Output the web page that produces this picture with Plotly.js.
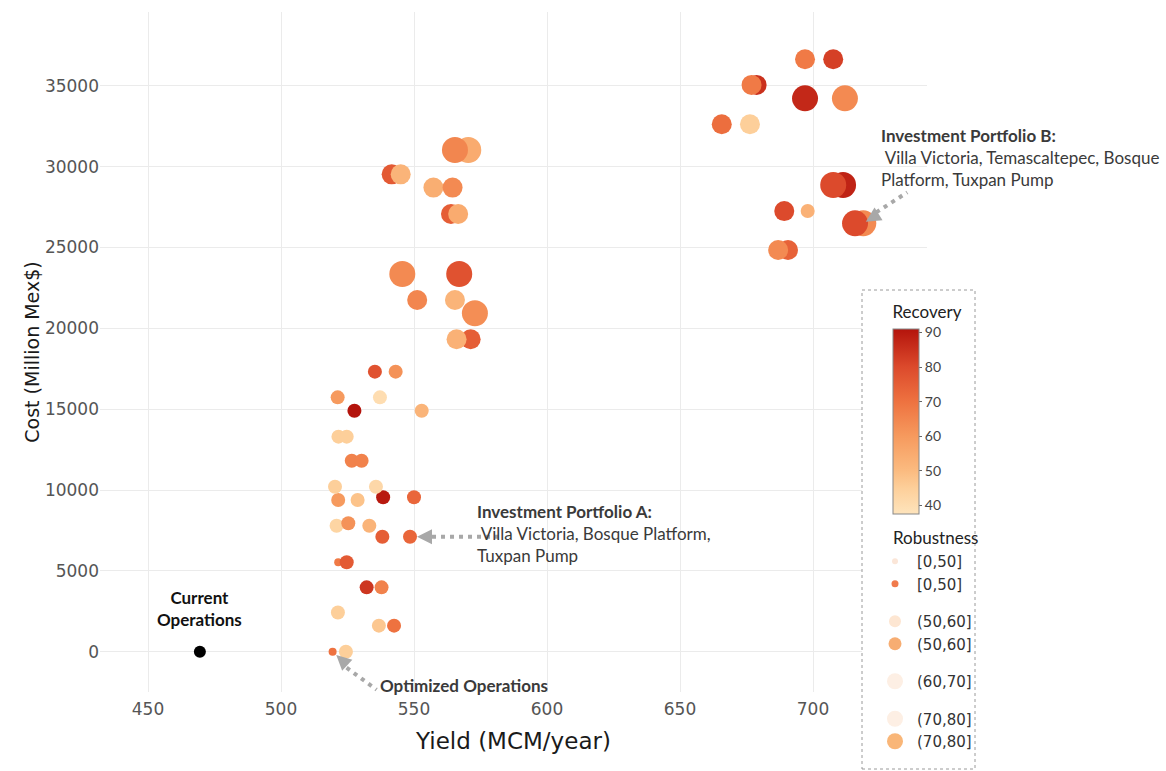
<!DOCTYPE html>
<html>
<head>
<meta charset="utf-8">
<script src="https://cdn.plot.ly/plotly-3.0.1.min.js"></script>
<style>
  html, body { margin: 0; padding: 0; background: #ffffff; }
  #chart { width: 1166px; height: 771px; }
</style>
</head>
<body>
<div id="chart"></div>
<script>
// ---------------- DATA ----------------
const yieldMCM = [
  519.4, 524.4, 521.4, 536.8, 542.5, 532.2, 537.8, 521.5, 524.7, 548.5,
  538.1, 520.9, 525.3, 533.2, 521.5, 528.8, 538.4, 550.0, 520.3, 535.7,
  526.6, 530.3, 521.6, 524.7, 527.6, 552.9, 521.3, 537.2, 535.3, 543.1,
  570.4, 565.4, 541.6, 545.0, 557.3, 564.5, 563.9, 566.6, 545.6, 567.0,
  551.2, 565.4, 572.9, 571.3, 566.0,
  697.0, 707.6, 678.8, 676.9, 697.0, 712.0, 665.7, 676.3, 711.3, 707.6,
  689.2, 698.0, 718.9, 715.8, 690.6, 686.9
];
const costMillionMex = [
  0, 0, 2420, 1610, 1610, 3980, 3980, 5530, 5530, 7110,
  7110, 7790, 7940, 7790, 9380, 9380, 9550, 9550, 10200, 10200,
  11810, 11810, 13300, 13300, 14900, 14900, 15730, 15730, 17320, 17320,
  31030, 31030, 29520, 29520, 28700, 28700, 27070, 27070, 23360, 23360,
  21750, 21750, 20930, 19320, 19320,
  36640, 36640, 35050, 35050, 34220, 34220, 32620, 32620, 28860, 28860,
  27250, 27250, 26490, 26490, 24840, 24840
];
const recovery = [
  70, 45, 45, 47, 70, 84, 66, 68, 76, 73,
  75, 43, 62, 52, 60, 48, 90, 73, 45, 42,
  66, 66, 45, 45, 91, 52, 60, 40, 78, 62,
  55, 65, 76, 52, 54, 64, 75, 55, 64, 78,
  65, 52, 63, 75, 53,
  68, 82, 85, 68, 87, 64, 71, 45, 88, 80,
  80, 53, 64, 80, 74, 64
];
const robustness = [
  '[0,50]', '(50,60]', '(50,60]', '(50,60]', '(50,60]', '(50,60]', '(50,60]', '[0,50]', '(50,60]', '(50,60]',
  '(50,60]', '(50,60]', '(50,60]', '(50,60]', '(50,60]', '(50,60]', '(50,60]', '(50,60]', '(50,60]', '(50,60]',
  '(50,60]', '(50,60]', '(50,60]', '(50,60]', '(50,60]', '(50,60]', '(50,60]', '(50,60]', '(50,60]', '(50,60]',
  '(70,80]', '(70,80]', '(60,70]', '(60,70]', '(60,70]', '(60,70]', '(60,70]', '(60,70]', '(70,80]', '(70,80]',
  '(60,70]', '(60,70]', '(70,80]', '(60,70]', '(60,70]',
  '(60,70]', '(60,70]', '(60,70]', '(60,70]', '(70,80]', '(70,80]', '(60,70]', '(60,70]', '(70,80]', '(70,80]',
  '(60,70]', '(50,60]', '(70,80]', '(70,80]', '(60,70]', '(60,70]'
];
const currentYield = [469.5];
const currentCost = [0];

const xTicks = [450, 500, 550, 600, 650, 700];
const yTicks = [0, 5000, 10000, 15000, 20000, 25000, 30000, 35000];
const recoveryTicks = [40, 50, 60, 70, 80, 90];
const legendLabels = ['[0,50]', '[0,50]', '(50,60]', '(50,60]', '(60,70]', '(70,80]', '(70,80]'];
const legendGroups = ['g1', 'g1', 'g2', 'g2', 'g3', 'g4', 'g4'];

// Annotated points
const portfolioA = {x: 548.5, y: 7110};
const portfolioB = {x: 718.9, y: 26490};
const optimized = {x: 519.4, y: 0};

// ---------------- STYLE ----------------
const sizeByCat = {'[0,50]': 8, '(50,60]': 14, '(60,70]': 20, '(70,80]': 26};
const legendColors = ['#fbe6d8', '#f07a4c', '#fde6d2', '#f7ad72', '#fdefe4', '#fdefe4', '#f9b678'];
const legendSizes = [6, 7, 12, 13, 16, 16, 16];

const cmin = 37.5, cmax = 91;
function norm(v) { return (v - cmin) / (cmax - cmin); }
const colorscale = [
  [0, '#fee4bc'],
  [norm(45), '#fdcf9a'],
  [norm(50), '#fbbb80'],
  [norm(60), '#f69a5e'],
  [norm(70), '#ee7240'],
  [norm(80), '#dc4a2c'],
  [1, '#b4140c']
];

const W = 1166, H = 771;
const plotL = 100, plotR = 927, plotT = 12, plotB = 692;
const pw = plotR - plotL, ph = plotB - plotT;
const pxPerYield = 2.66, pxPerCost = 0.01617;
const px2paperX = px => (px - plotL) / pw;
const px2paperY = py => (plotB - py) / ph;

const traces = [];

traces.push({
  type: 'scatter',
  mode: 'markers',
  x: yieldMCM,
  y: costMillionMex,
  showlegend: false,
  cliponaxis: false,
  hoverinfo: 'x+y',
  marker: {
    size: robustness.map(c => sizeByCat[c]),
    color: recovery,
    colorscale: colorscale,
    cmin: cmin,
    cmax: cmax,
    opacity: 1,
    line: {width: 0},
    colorbar: {
      title: {text: 'Recovery', side: 'top', font: {family: 'Lato, sans-serif', size: 17, color: '#222'}},
      x: px2paperX(893), xanchor: 'left',
      y: px2paperY(514), yanchor: 'bottom',
      len: 211, lenmode: 'pixels',
      thickness: 26,
      outlinewidth: 1, outlinecolor: '#888',
      tickvals: recoveryTicks,
      ticks: 'outside', ticklen: 3, tickcolor: '#666',
      tickfont: {family: 'Lato, sans-serif', size: 14, color: '#444'},
      xpad: 0, ypad: 0
    }
  }
});

traces.push({
  type: 'scatter',
  mode: 'markers',
  x: currentYield,
  y: currentCost,
  showlegend: false,
  cliponaxis: false,
  marker: {size: 12, color: '#000000'}
});

legendLabels.forEach((lab, i) => {
  traces.push({
    type: 'scatter',
    mode: 'markers',
    x: [null],
    y: [null],
    name: lab,
    legendgroup: legendGroups[i],
    showlegend: true,
    marker: {size: legendSizes[i], color: legendColors[i]}
  });
});

const annFont = {family: 'Lato, sans-serif', size: 17, color: '#3a3a3a'};
const dotLine = {color: '#a8a8a8', width: 4, dash: '4px,5px'};

const layout = {
  width: W, height: H,
  paper_bgcolor: '#ffffff',
  plot_bgcolor: '#ffffff',
  margin: {l: plotL, r: W - plotR, t: plotT, b: H - plotB, pad: 0, autoexpand: false},
  showlegend: true,
  xaxis: {
    range: [450 - (148 - plotL) / pxPerYield, 450 + (plotR - 148) / pxPerYield],
    tickvals: xTicks,
    showgrid: true, gridcolor: '#ebebeb', gridwidth: 1,
    zeroline: false, showline: false,
    ticks: 'outside', ticklen: 2, tickcolor: 'rgba(0,0,0,0)',
    tickfont: {family: 'DejaVu Sans, sans-serif', size: 17, color: '#555'},
    title: {text: 'Yield (MCM/year)', font: {family: 'DejaVu Sans, sans-serif', size: 23, color: '#1a1a1a'}, standoff: 14}
  },
  yaxis: {
    range: [-(plotB - 651.7) / pxPerCost, (651.7 - plotT) / pxPerCost],
    tickvals: yTicks,
    ticktext: yTicks.map(String),
    showgrid: true, gridcolor: '#ebebeb', gridwidth: 1,
    zeroline: false, showline: false, ticks: '',
    tickfont: {family: 'DejaVu Sans, sans-serif', size: 17, color: '#555'},
    title: {text: 'Cost (Million Mex$)', font: {family: 'DejaVu Sans, sans-serif', size: 19, color: '#1a1a1a'}, standoff: 0}
  },
  legend: {
    x: px2paperX(873), xanchor: 'left',
    y: px2paperY(545), yanchor: 'top',
    bgcolor: 'rgba(0,0,0,0)',
    borderwidth: 0,
    tracegroupgap: 15,
    itemsizing: 'trace',
    itemwidth: 34,
    font: {family: 'DejaVu Sans, sans-serif', size: 15, color: '#333'}
  },
  shapes: [
    {type: 'rect', xref: 'paper', yref: 'paper',
     x0: px2paperX(862), x1: px2paperX(975), y0: px2paperY(769), y1: px2paperY(290),
     line: {color: '#9a9a9a', width: 1, dash: 'dot'}, fillcolor: '#ffffff', layer: 'above'},
    // dotted leader for Portfolio A
    {type: 'line', xref: 'x', yref: 'y', xsizemode: 'pixel', xanchor: portfolioA.x,
     x0: 22, x1: 88, y0: portfolioA.y, y1: portfolioA.y, line: dotLine},
    // dotted leader for Optimized Operations
    {type: 'line', xref: 'x', yref: 'y', xsizemode: 'pixel', xanchor: optimized.x,
     ysizemode: 'pixel', yanchor: optimized.y,
     x0: 14, x1: 44, y0: -16, y1: -38, line: dotLine},
    // dotted leader for Portfolio B
    {type: 'line', xref: 'x', yref: 'y', xsizemode: 'pixel', xanchor: portfolioB.x,
     ysizemode: 'pixel', yanchor: portfolioB.y,
     x0: 13, x1: 44, y0: 11, y1: 31, line: dotLine}
  ],
  annotations: [
    {x: currentYield[0], y: 2700, xref: 'x', yref: 'y', text: '<b>Current<br>Operations</b>',
     showarrow: false, xanchor: 'center', yanchor: 'middle', align: 'center',
     font: {family: 'Lato, sans-serif', size: 17, color: '#111'}},
    {x: 536.3, y: -2060, xref: 'x', yref: 'y', text: '<b>Optimized Operations</b>',
     showarrow: false, xanchor: 'left', yanchor: 'middle', align: 'left', font: annFont},
    {x: 573.0, y: 7280, xref: 'x', yref: 'y',
     text: '<b>Investment Portfolio A:</b><br> Villa Victoria, Bosque Platform,<br>Tuxpan Pump',
     showarrow: false, xanchor: 'left', yanchor: 'middle', align: 'left', font: annFont},
    {x: 724.8, y: 30590, xref: 'x', yref: 'y',
     text: '<b>Investment Portfolio B:</b><br> Villa Victoria, Temascaltepec, Bosque<br>Platform, Tuxpan Pump',
     showarrow: false, xanchor: 'left', yanchor: 'middle', align: 'left', font: annFont},
    {x: px2paperX(891), y: px2paperY(537), xref: 'paper', yref: 'paper', text: 'Robustness',
     showarrow: false, xanchor: 'left', yanchor: 'middle',
     font: {family: 'Lato, sans-serif', size: 17, color: '#222'}},
    // arrowheads
    {x: portfolioA.x, y: portfolioA.y, xref: 'x', yref: 'y', text: '', showarrow: true,
     ax: 18, ay: 0, arrowhead: 2, arrowsize: 1, arrowwidth: 3, arrowcolor: '#a8a8a8', standoff: 7},
    {x: optimized.x, y: optimized.y, xref: 'x', yref: 'y', text: '', showarrow: true,
     ax: 14, ay: 13, arrowhead: 2, arrowsize: 1, arrowwidth: 3, arrowcolor: '#a8a8a8', standoff: 5},
    {x: portfolioB.x, y: portfolioB.y, xref: 'x', yref: 'y', text: '', showarrow: true,
     ax: 16, ay: -10, arrowhead: 2, arrowsize: 1, arrowwidth: 3, arrowcolor: '#a8a8a8', standoff: 3}
  ]
};

Plotly.newPlot('chart', traces, layout, {displayModeBar: false, staticPlot: true});
</script>
</body>
</html>
